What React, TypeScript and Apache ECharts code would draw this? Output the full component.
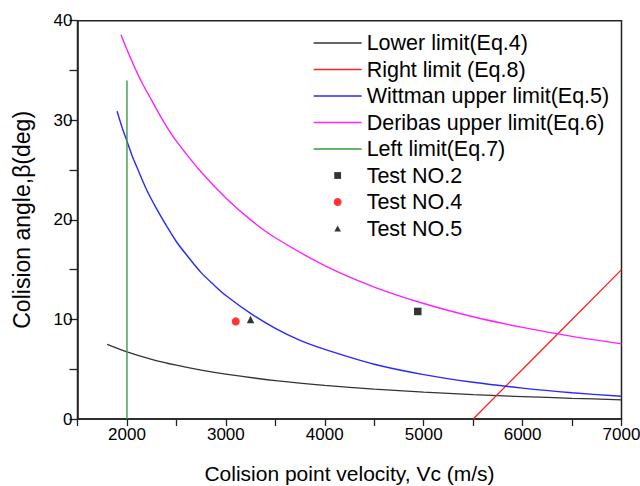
import React, { useEffect, useRef } from "react";
import * as echarts from "echarts";

// x: collision point velocity Vc (m/s); y: collision angle β (deg)
const lowerVc = [1800, 2000, 2250, 2500, 2750, 3000, 3500, 4000, 4500, 5000, 5500, 6000, 6500, 7000];
const lowerBeta = [7.5, 6.75, 6.0, 5.4, 4.9, 4.5, 3.86, 3.38, 3.0, 2.7, 2.45, 2.25, 2.08, 1.93];

const rightVc = [5500, 6000, 6500, 7000];
const rightBeta = [0, 5, 10, 15];

const wittVc = [1900, 1950, 2000, 2050, 2100, 2200, 2300, 2400, 2500, 2625, 2750, 2875, 3000, 3250, 3500, 3750, 4000, 4500, 5000, 5500, 6000, 6500, 7000];
const wittBeta = [30.9, 29.3, 27.9, 26.5, 25.3, 23.0, 21.1, 19.4, 17.8, 16.2, 14.7, 13.5, 12.4, 10.6, 9.1, 7.9, 7.0, 5.5, 4.46, 3.69, 3.1, 2.64, 2.28];

const deribasVc = [1940, 2000, 2125, 2250, 2375, 2500, 2750, 3000, 3250, 3500, 4000, 4500, 5000, 5500, 6000, 6500, 7000];
const deribasBeta = [38.6, 37.1, 34.3, 32.0, 29.8, 27.9, 24.8, 22.2, 20.0, 18.2, 15.4, 13.25, 11.6, 10.27, 9.2, 8.3, 7.56];

const leftVc = [2000, 2000];
const leftBeta = [0, 34];

const test2 = [[4940, 10.8]];
const test4 = [[3100, 9.8]];
const test5 = [[3250, 10.0]];

const seriesNames = [
  "Lower limit(Eq.4)",
  "Right limit (Eq.8)",
  "Wittman upper limit(Eq.5)",
  "Deribas upper limit(Eq.6)",
  "Left limit(Eq.7)",
  "Test NO.2",
  "Test NO.4",
  "Test NO.5",
];
const seriesColors = ["#333333", "#ff2020", "#2828ff", "#ff22ff", "#3c9a3c", "#000000", "#ff0000", "#000000"];

const zip = (xs: number[], ys: number[]) => xs.map((x, i) => [x, ys[i]]);

const FONT = "Liberation Sans, Arial, sans-serif";
const MARKER_ICONS: Record<number, string> = {
  5: "path://M0 0L0 0M20.6 0.6L27.4 0.6L27.4 7.4L20.6 7.4ZM48 8L48 8",
  6: "circle",
  7: "path://M0 0L0 0M24 1L27.3 7L20.7 7ZM48 8L48 8",
};

export default function App() {
  const ref = useRef<HTMLDivElement>(null);
  useEffect(() => {
    if (!ref.current) return;
    const chart = echarts.init(ref.current, undefined, { renderer: "svg" });
    const lineSeries = (i: number, data: number[][], width: number, smooth = false) => ({
      name: seriesNames[i],
      type: "line",
      data,
      symbol: "none",
      smooth: smooth ? 0.3 : false,
      lineStyle: { color: seriesColors[i], width },
      itemStyle: { color: seriesColors[i] },
      z: 2,
    });
    const scatterSeries = (i: number, data: number[][], symbol: string, size: number) => ({
      name: seriesNames[i],
      type: "scatter",
      data,
      symbol,
      symbolSize: size,
      itemStyle: { color: seriesColors[i] },
      z: 3,
    });
    chart.setOption({
      animation: false,
      backgroundColor: "#fff",
      textStyle: { fontFamily: FONT, color: "#000" },
      grid: {
        left: 77.5,
        right: 18.5,
        top: 20.7,
        bottom: 67,
        outerBoundsMode: "none",
        containLabel: false,
        show: true,
        borderColor: "#222",
        borderWidth: 1.5,
        backgroundColor: "transparent",
      },
      legend: {
        orient: "vertical",
        left: 313,
        top: 32,
        padding: 0,
        itemGap: 4.5,
        itemWidth: 48,
        itemHeight: 8,
        textStyle: { fontSize: 21.5, lineHeight: 21, color: "#000", fontFamily: FONT },
        data: seriesNames.map((name, i) =>
          i < 5
            ? { name, itemStyle: { opacity: 0 }, lineStyle: { color: seriesColors[i], width: 1.3 } }
            : { name, icon: MARKER_ICONS[i], itemStyle: { color: seriesColors[i], borderWidth: 0 } }
        ),
      },
      xAxis: {
        type: "value",
        min: 1500,
        max: 7000,
        interval: 500,
        name: "Colision point velocity, Vc (m/s)",
        nameLocation: "middle",
        nameGap: 44,
        nameTextStyle: { fontSize: 21, color: "#000", fontFamily: FONT },
        axisLine: { lineStyle: { color: "#222", width: 1.5 } },
        axisTick: { show: true, length: 7, lineStyle: { color: "#222", width: 1.3 } },
        axisLabel: {
          fontSize: 17,
          color: "#000",
          margin: 7,
          formatter: (v: number) => (v % 1000 === 0 ? String(v) : ""),
        },
        splitLine: { show: false },
      },
      yAxis: {
        type: "value",
        min: 0,
        max: 40,
        interval: 5,
        name: "Colision angle,β(deg)",
        nameLocation: "middle",
        nameGap: 44,
        nameTextStyle: { fontSize: 23, color: "#000", fontFamily: FONT },
        axisLine: { show: true, lineStyle: { color: "#222", width: 1.5 } },
        axisTick: { show: true, length: 8, lineStyle: { color: "#222", width: 1.3 } },
        axisLabel: {
          fontSize: 17,
          color: "#000",
          margin: 5,
          formatter: (v: number) => (v % 10 === 0 ? String(v) : ""),
        },
        splitLine: { show: false },
      },
      series: [
        lineSeries(0, zip(lowerVc, lowerBeta), 1.3, true),
        lineSeries(1, zip(rightVc, rightBeta), 1.3),
        lineSeries(2, zip(wittVc, wittBeta), 1.4, true),
        lineSeries(3, zip(deribasVc, deribasBeta), 1.4, true),
        lineSeries(4, zip(leftVc, leftBeta), 1.4),
        scatterSeries(5, test2, "rect", 7.5),
        scatterSeries(6, test4, "circle", 8),
        scatterSeries(7, test5, "triangle", 7.5),
      ],
    });
    return () => chart.dispose();
  }, []);
  return (
    <div
      ref={ref}
      style={{ position: "absolute", left: 0, top: 0, width: 640, height: 486 }}
    />
  );
}
